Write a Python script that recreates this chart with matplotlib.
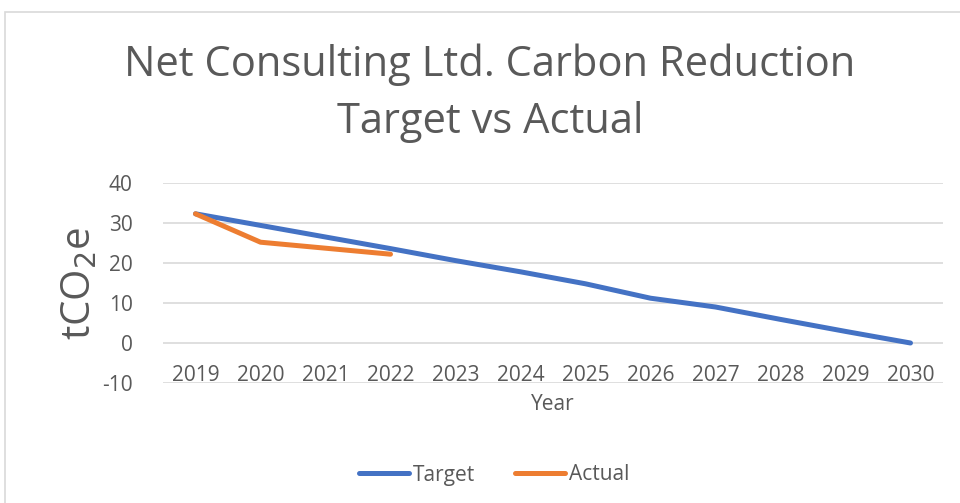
import matplotlib.pyplot as plt
from matplotlib.patches import Rectangle

plt.rcParams['font.family'] = ['Open Sans', 'DejaVu Sans']
plt.rcParams['axes.unicode_minus'] = False

# 数据
years = ['2019', '2020', '2021', '2022', '2023', '2024', '2025', '2026', '2027', '2028', '2029', '2030']
target = [32.3, 29.4, 26.5, 23.6, 20.6, 17.8, 14.8, 11.2, 9.0, 5.9, 2.9, 0.0]
actual = [32.3, 25.2, 23.7, 22.2]

W, H = 960, 503
grey = '#595959'
grid_c = '#d9d9d9'

fig = plt.figure(figsize=(W / 100, H / 100), dpi=100)
fig.patch.set_facecolor('white')

# 外框
fig.patches.append(Rectangle((5 / W, -0.2), 1.2, 1.2 - 12 / H, transform=fig.transFigure,
                             fill=False, edgecolor=grid_c, linewidth=1.2))

left, right, top, bottom = 163, 943, 183, 383
ax = fig.add_axes([left / W, 1 - bottom / H, (right - left) / W, (bottom - top) / H])

x = list(range(len(years)))
ax.plot(x, target, color='#4472C4', lw=3.6, solid_capstyle='round', solid_joinstyle='round', label='Target', zorder=3)
ax.plot(x[:len(actual)], actual, color='#ED7D31', lw=3.6, solid_capstyle='round', solid_joinstyle='round', label='Actual', zorder=3)

ax.set_xlim(-0.5, len(years) - 0.5)
ax.set_ylim(-10, 40)
ax.set_yticks(range(-10, 41, 10))
ax.yaxis.grid(True, color=grid_c, lw=1.2)
ax.set_axisbelow(True)
for s in ax.spines.values():
    s.set_visible(False)

# 类别轴放在 0 处
ax.spines['bottom'].set_position(('data', 0))
ax.set_xticks(x)
ax.set_xticklabels(years)
ax.tick_params(axis='x', length=0, pad=16, labelsize=15, labelcolor=grey)
ax.tick_params(axis='y', length=0, pad=22, labelsize=15, labelcolor=grey)

# 标题
fig.text(490 / W, 1 - 65 / H, 'Net Consulting Ltd. Carbon Reduction', ha='center', va='center',
         fontsize=30, color=grey)
fig.text(490 / W, 1 - 122 / H, 'Target vs Actual', ha='center', va='center',
         fontsize=30, color=grey)

fig.text(80 / W, 1 - 284 / H, 'tCO$_2$e', rotation=90, ha='center', va='center',
         fontsize=29, color=grey)
fig.text(553 / W, 1 - 405 / H, 'Year', ha='center', va='center', fontsize=15, color=grey)

leg = fig.legend(loc='center', bbox_to_anchor=(494 / W, 1 - 475 / H), ncol=2, frameon=False,
                 fontsize=15, handlelength=2.4, handletextpad=0.2, columnspacing=1.9)
for t in leg.get_texts():
    t.set_color(grey)

fig.savefig('out.png', dpi=100)
